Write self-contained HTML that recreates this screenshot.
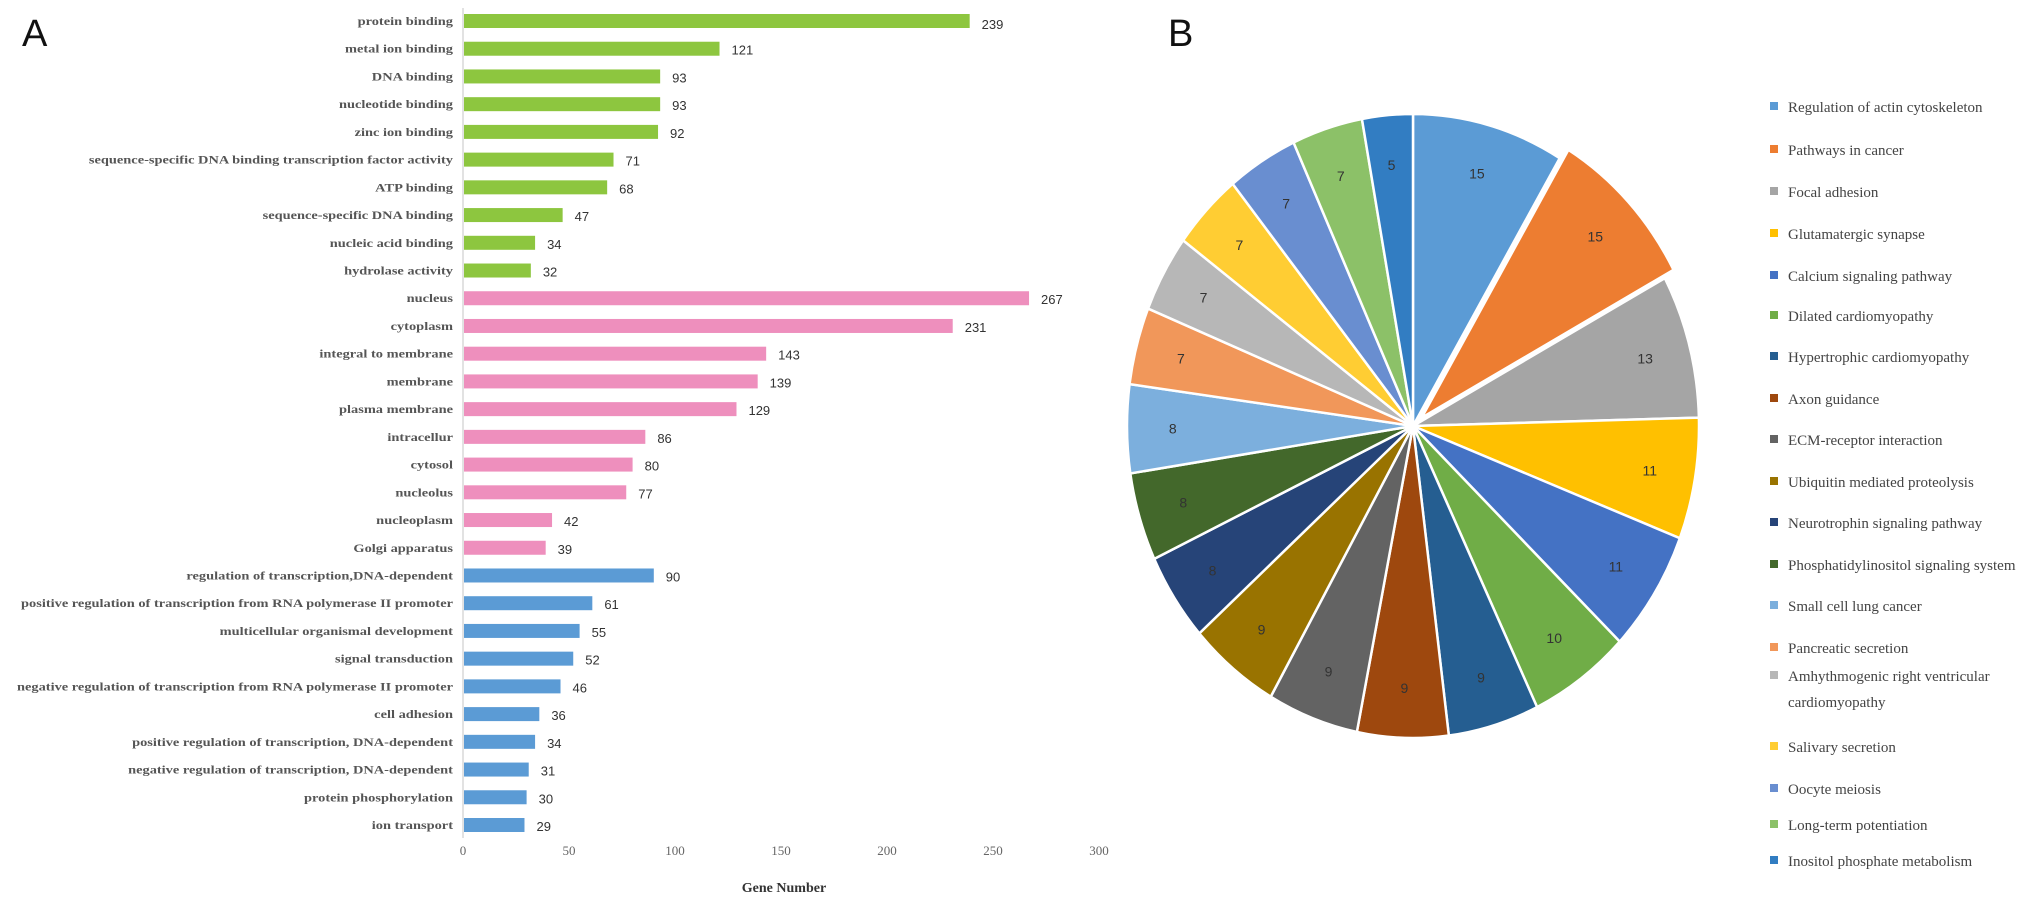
<!DOCTYPE html>
<html><head><meta charset="utf-8"><style>
body{margin:0;background:#fff;}
svg{display:block;}
.lab{font-family:"Liberation Serif",serif;font-weight:bold;font-size:12px;fill:#555;}
.val{font-family:"Liberation Sans",sans-serif;font-size:13px;fill:#333;}
.tick{font-family:"Liberation Serif",serif;font-size:13px;fill:#666;}
.leg{font-family:"Liberation Serif",serif;font-size:15px;fill:#444;}
</style></head><body>
<svg id="s" width="2031" height="906" viewBox="0 0 2031 906" xmlns="http://www.w3.org/2000/svg">
<text x="22" y="46" font-family="Liberation Sans,sans-serif" font-size="38" fill="#111">A</text>
<text x="1168" y="46" font-family="Liberation Sans,sans-serif" font-size="38" fill="#111">B</text>
<g id="bars"></g>
<g id="pie"></g>
<g id="legend"></g>
</svg>
<script>
const categories=["protein binding","metal ion binding","DNA binding","nucleotide binding","zinc ion binding","sequence-specific DNA binding transcription factor activity","ATP binding","sequence-specific DNA binding","nucleic acid binding","hydrolase activity","nucleus","cytoplasm","integral to membrane","membrane","plasma membrane","intracellur","cytosol","nucleolus","nucleoplasm","Golgi apparatus","regulation of transcription,DNA-dependent","positive regulation of transcription from RNA polymerase II promoter","multicellular organismal development","signal transduction","negative regulation of transcription from RNA polymerase II promoter","cell adhesion","positive regulation of transcription, DNA-dependent","negative regulation of transcription, DNA-dependent","protein phosphorylation","ion transport"];
const values=[239,121,93,93,92,71,68,47,34,32,267,231,143,139,129,86,80,77,42,39,90,61,55,52,46,36,34,31,30,29];
const groups=["MF","MF","MF","MF","MF","MF","MF","MF","MF","MF","CC","CC","CC","CC","CC","CC","CC","CC","CC","CC","BP","BP","BP","BP","BP","BP","BP","BP","BP","BP"];
const ticks=[0,50,100,150,200,250,300];
const pieLabels=["Regulation of actin cytoskeleton","Pathways in cancer","Focal adhesion","Glutamatergic synapse","Calcium signaling pathway","Dilated cardiomyopathy","Hypertrophic cardiomyopathy","Axon guidance","ECM-receptor interaction","Ubiquitin mediated proteolysis","Neurotrophin signaling pathway","Phosphatidylinositol signaling system","Small cell lung cancer","Pancreatic secretion","Amhythmogenic right ventricular cardiomyopathy","Salivary secretion","Oocyte meiosis","Long-term potentiation","Inositol phosphate metabolism"];
const pieValues=[15,15,13,11,11,10,9,9,9,9,8,8,8,7,7,7,7,7,5];

const NS="http://www.w3.org/2000/svg";
function mk(tag,attrs,parent,text){const e=document.createElementNS(NS,tag);for(const k in attrs)e.setAttribute(k,attrs[k]);if(text!==undefined)e.textContent=text;parent.appendChild(e);return e;}
const gColor={MF:"#8DC63F",CC:"#EE8FBD",BP:"#5B9BD5"};
const x0=463,x1=1099,y0=21,y1=825;
const xs=v=>x0+(v-0)/(300-0)*(x1-x0);
const step=(y1-y0)/(categories.length-1);
const ys=i=>y0+i*step;
const bars=document.getElementById('bars');
const ax=mk('line',{x1:x0,y1:8,x2:x0,y2:838,stroke:"#d9d9d9","stroke-width":1.5},bars);


categories.forEach((c,i)=>{
  const y=ys(i);
  const r=mk('rect',{x:x0+1,y:y-7,width:xs(values[i])-x0-1,height:14,fill:gColor[groups[i]]},bars);
  
  
  const t=mk('text',{x:x0-10,y:y+4,"text-anchor":"end",class:"lab"},bars,c);
  
  
  const w=t.getComputedTextLength();
  if(w>0){t.setAttribute('textLength',(w*1.2).toFixed(1));t.setAttribute('lengthAdjust','spacingAndGlyphs');}
  const v=mk('text',{x:xs(values[i])+12,y:y+(i===0?8:6),class:"val"},bars,String(values[i]));
  
  
});
ticks.forEach(t=>{
  const e=mk('text',{x:xs(t),y:855,"text-anchor":"middle",class:"tick"},bars,String(t));
  
  
});
const xt=mk('text',{x:784,y:892,"text-anchor":"middle","font-family":"Liberation Serif,serif","font-weight":"bold","font-size":"14",fill:"#333"},bars,"Gene Number");



const colors=["#5B9BD5","#ED7D31","#A5A5A5","#FFC000","#4472C4","#70AD47","#255E91","#9E480E","#636363","#997300","#264478","#43682B","#7CAFDD","#F1975A","#B7B7B7","#FFCD33","#698ED0","#8CC168","#327DC2"];
const cx=1413,cy=426,rx=286,ry=312;
const total=pieValues.reduce((a,b)=>a+b,0);
const pie=document.getElementById('pie');
let a=0;
pieValues.forEach((v,i)=>{
  const a0=a,a1=a+v/total*2*Math.PI;a=a1;
  const mid=(a0+a1)/2;
  const off=i===1?12:0;
  const ox=cx+off*Math.sin(mid),oy=cy-off*Math.cos(mid);
  const p=(ang,s)=>[ox+rx*s*Math.sin(ang),oy-ry*s*Math.cos(ang)];
  const [xa,ya]=p(a0,1),[xb,yb]=p(a1,1);
  const d=`M${ox},${oy} L${xa},${ya} A${rx},${ry} 0 ${a1-a0>Math.PI?1:0} 1 ${xb},${yb} Z`;
  const s=mk('path',{d,fill:colors[i],stroke:"#fff","stroke-width":2.5},pie);
  
  
  const [lx,ly]=p(mid,0.84);
  const t=mk('text',{x:lx,y:ly+5,"text-anchor":"middle","font-family":"Liberation Sans,sans-serif","font-size":"14",fill:"#333"},pie,String(v));
  
  
});
const legY=[107,150,192,234,276,316,357,399,440,482,523,565,606,648,676,747,789,825,861];
const leg=document.getElementById('legend');
pieLabels.forEach((l,i)=>{
  const y=legY[i];
  const g=mk('g',{},leg);
  
  
  mk('rect',{x:1770,y:y-5,width:8,height:8,fill:colors[i]},g);
  if(i===14){
    mk('text',{x:1788,y:y+5,class:"leg"},g,"Amhythmogenic right ventricular");
    mk('text',{x:1788,y:y+31,class:"leg"},g,"cardiomyopathy");
  } else mk('text',{x:1788,y:y+5,class:"leg"},g,l);
});
</script>
</body></html>
